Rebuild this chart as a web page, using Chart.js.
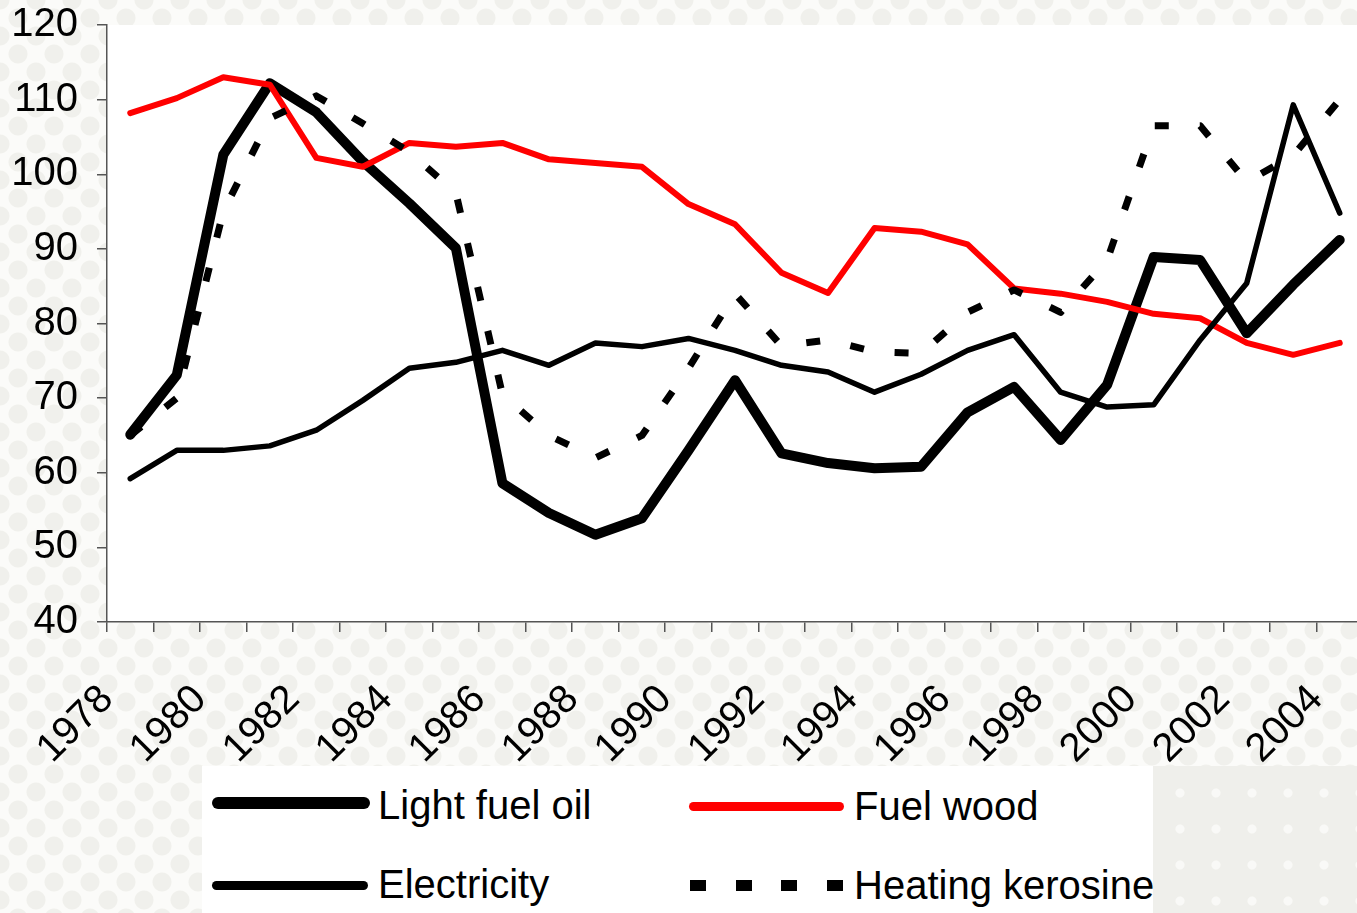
<!DOCTYPE html>
<html>
<head>
<meta charset="utf-8">
<script src="https://cdn.jsdelivr.net/npm/chart.js@4"></script>
<style>
  html, body { margin: 0; padding: 0; overflow: hidden; }
  body {
    width: 1357px; height: 913px;
    background-color: #fbfbf9;
    background-image:
      radial-gradient(circle, #f0f0ec 9px, transparent 10px),
      radial-gradient(circle, #f0f0ec 9px, transparent 10px);
    background-size: 36px 36px;
    background-position: 0 0, 18px 18px;
    font-family: "Liberation Sans", Arial, sans-serif;
  }
  #wrap { position: relative; width: 1357px; height: 913px; overflow: hidden; }
  #chart { position: absolute; left: 0; top: 0; }
  #corner {
    position: absolute; left: 1153px; top: 766px; width: 204px; height: 147px;
    background-color: #efefeb;
    background-image: radial-gradient(circle, #f9f9f7 4px, transparent 5px);
    background-size: 36px 36px; background-position: 9px 9px;
  }
  #legend { position: absolute; left: 202px; top: 766px; width: 951px; height: 147px; background: #fff; }
  .sample { position: absolute; }
  .txt { position: absolute; font-size: 40px; line-height: 40px; color: #000; white-space: nowrap; }
</style>
</head>
<body>
<div id="wrap">
  <canvas id="chart" width="1363" height="913"></canvas>
  <div id="corner"></div>
  <div id="legend"></div>
</div>
<script>
const years = ['1978','1979','1980','1981','1982','1983','1984','1985','1986','1987','1988','1989','1990',
  '1991','1992','1993','1994','1995','1996','1997','1998','1999','2000','2001','2002','2003','2004'];

const lightFuelOil = [65.1, 73.1, 102.6, 112.2, 108.3, 101.7, 96.1, 90.1, 58.6, 54.6, 51.7, 53.9, 63.0,
  72.4, 62.6, 61.3, 60.6, 60.8, 68.1, 71.5, 64.4, 71.8, 88.9, 88.5, 78.7, 85.2, 91.2];
const fuelWood = [108.2, 110.2, 113.0, 112.0, 102.2, 101.0, 104.2, 103.7, 104.2, 102.0, 101.5, 101.0, 96.0,
  93.3, 86.8, 84.1, 92.8, 92.3, 90.6, 84.7, 84.0, 82.9, 81.3, 80.7, 77.4, 75.8, 77.4];
const electricity = [59.2, 63.0, 63.0, 63.6, 65.7, 69.7, 74.0, 74.8, 76.4, 74.4, 77.4, 76.9, 78.0,
  76.4, 74.4, 73.5, 70.8, 73.2, 76.4, 78.5, 70.8, 68.8, 69.1, 77.8, 85.4, 109.3, 94.8];
const kerosine = [65, 70, 95, 107.5, 110.5, 106.8, 103, 97.5, 70.5, 65, 62, 65, 74,
  84, 77, 77.8, 76.2, 76, 81.5, 84.5, 81.5, 88.5, 106.5, 106.5, 99, 102.5, 110];

const seriesNames = ['Light fuel oil', 'Fuel wood', 'Electricity', 'Heating kerosine'];
const yMin = 40, yMax = 120, yStep = 10;

const FONT = '"Liberation Sans", Arial, sans-serif';

// white plot area over the patterned page
const plotBg = {
  id: 'plotBg',
  beforeDraw(chart) {
    const { ctx, chartArea: a } = chart;
    ctx.save();
    ctx.fillStyle = '#ffffff';
    ctx.fillRect(a.left, a.top, a.right - a.left, a.bottom - a.top);
    ctx.restore();
  }
};

const line = (label, data, color, width, order, dash) => ({
  label, data, order,
  borderColor: color,
  borderWidth: width,
  borderDash: dash || [],
  borderCapStyle: dash ? 'butt' : 'round',
  borderJoinStyle: 'round',
  pointRadius: 0,
  tension: 0,
  fill: false
});

new Chart(document.getElementById('chart'), {
  type: 'line',
  data: {
    labels: years,
    datasets: [
      line(seriesNames[0], lightFuelOil, '#000000', 10, 4),
      line(seriesNames[1], fuelWood, '#ff0000', 6, 3),
      line(seriesNames[2], electricity, '#000000', 5.5, 2),
      line(seriesNames[3], kerosine, '#000000', 7, 1, [14, 31])
    ]
  },
  options: {
    responsive: false,
    animation: false,
    layout: { padding: { top: 25, left: 0, right: 0, bottom: 0 } },
    plugins: { legend: { display: false }, tooltip: { enabled: false } },
    scales: {
      x: {
        offset: true,
        grid: { offset: true, drawOnChartArea: false, drawTicks: true, tickLength: 10, color: '#555', lineWidth: 1.5 },
        border: { color: '#555', width: 1.5 },
        ticks: {
          autoSkip: false,
          minRotation: 45,
          maxRotation: 45,
          padding: 44,
          labelOffset: -23,
          color: '#000',
          font: { family: FONT, size: 40 },
          callback: (v, i) => (i % 2 === 0 ? years[i] : '')
        },
        afterFit: s => { s.height = 913 - 622; s.paddingLeft = 0; s.paddingRight = 0; s.paddingTop = 0; s.paddingBottom = 0; }
      },
      y: {
        min: yMin, max: yMax,
        grid: { drawOnChartArea: false, drawTicks: true, tickLength: 10, color: '#555', lineWidth: 1.5 },
        border: { color: '#555', width: 1.5 },
        ticks: { stepSize: yStep, padding: 19, color: '#000', font: { family: FONT, size: 40 } },
        afterFit: s => { s.width = 107; s.paddingTop = 0; s.paddingBottom = 0; }
      }
    }
  },
  plugins: [plotBg]
});

// legend, 2 x 2 as in the original
const legend = document.getElementById('legend');
function add(html) { legend.insertAdjacentHTML('beforeend', html); }
const L = 202, T = 766;
function bar(x, cy, w, h, color) {
  add(`<div class="sample" style="left:${x - L}px;top:${cy - T - h / 2}px;width:${w}px;height:${h}px;background:${color};border-radius:${h / 2}px"></div>`);
}
function text(x, cy, s) {
  add(`<div class="txt" style="left:${x - L}px;top:${cy - T - 20}px">${s}</div>`);
}
bar(212, 803, 158, 12, '#000');
text(378, 805, seriesNames[0]);
bar(212, 885, 156, 9, '#000');
text(378, 884, seriesNames[2]);
bar(689, 806, 155, 9, '#ff0000');
text(854, 806, seriesNames[1]);
[690, 736, 781, 827].forEach(x => {
  add(`<div class="sample" style="left:${x - L}px;top:${885 - T - 5.5}px;width:16px;height:11px;background:#000"></div>`);
});
text(854, 885, seriesNames[3]);
</script>
</body>
</html>
